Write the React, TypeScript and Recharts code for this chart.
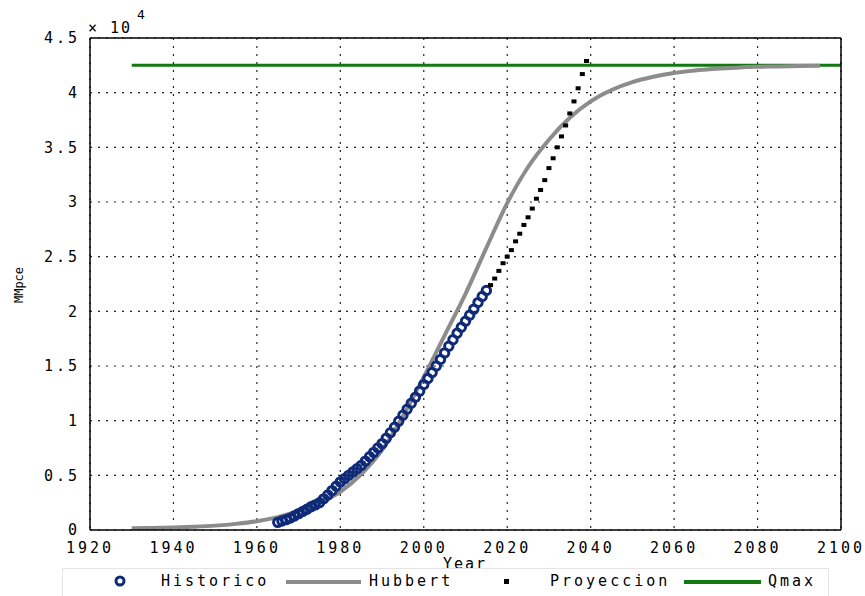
import React from 'react';
import {
  ComposedChart, Line, Scatter, XAxis, YAxis, CartesianGrid, Legend, Customized,
} from 'recharts';

// ---- data ----
const hubbertYears = [1930, 1935, 1940, 1945, 1950, 1955, 1960, 1965, 1970, 1975, 1980, 1985, 1990, 1995, 2000, 2005, 2010, 2015, 2020, 2025, 2030, 2035, 2040, 2045, 2050, 2055, 2060, 2065, 2070, 2075, 2080, 2085, 2090, 2095];
const hubbertValues = [150, 180, 230, 300, 400, 560, 800, 1180, 1740, 2500, 3500, 5100, 7300, 10400, 14000, 17800, 21600, 25800, 29900, 33200, 35700, 37700, 39200, 40240, 40960, 41450, 41800, 42030, 42180, 42290, 42360, 42400, 42440, 42460];

const historicoYears = [1965, 1966, 1967, 1968, 1969, 1970, 1971, 1972, 1973, 1974, 1975, 1976, 1977, 1978, 1979, 1980, 1981, 1982, 1983, 1984, 1985, 1986, 1987, 1988, 1989, 1990, 1991, 1992, 1993, 1994, 1995, 1996, 1997, 1998, 1999, 2000, 2001, 2002, 2003, 2004, 2005, 2006, 2007, 2008, 2009, 2010, 2011, 2012, 2013, 2014, 2015];
const historicoValues = [700, 820, 950, 1090, 1280, 1500, 1700, 1900, 2120, 2300, 2500, 2850, 3200, 3600, 4000, 4400, 4700, 5000, 5300, 5600, 5900, 6300, 6700, 7100, 7500, 7900, 8400, 8900, 9400, 9950, 10500, 11050, 11600, 12150, 12700, 13300, 13850, 14400, 15000, 15600, 16200, 16800, 17400, 18000, 18550, 19100, 19650, 20200, 20800, 21350, 21900];

const proyeccionYears = [2016, 2017, 2018, 2019, 2020, 2021, 2022, 2023, 2024, 2025, 2026, 2027, 2028, 2029, 2030, 2031, 2032, 2033, 2034, 2035, 2036, 2037, 2038, 2039];
const proyeccionValues = [22400, 23000, 23700, 24400, 25000, 25600, 26400, 27100, 27900, 28600, 29400, 30300, 31100, 32000, 33100, 34000, 35000, 36000, 37000, 38100, 39200, 40400, 41700, 42900];

const qmaxYears = [1930, 2100];
const qmaxValues = [42500, 42500];

const xTicks = [1920, 1940, 1960, 1980, 2000, 2020, 2040, 2060, 2080, 2100];
const yTicks = [0, 5000, 10000, 15000, 20000, 25000, 30000, 35000, 40000, 45000];

const seriesNames = ['Historico', 'Hubbert', 'Proyeccion', 'Qmax'];

// ---- styling ----
const FONT = "'DejaVu Sans Mono', monospace";
const BLUE = '#0f2a78';
const GRAY = '#8c8c8c';
const GREEN = '#127812';

const toPoints = (xs: number[], vs: number[]) => xs.map((x, i) => ({ x, v: vs[i] }));
const hubbertData = toPoints(hubbertYears, hubbertValues);
const historicoData = toPoints(historicoYears, historicoValues);
const proyeccionData = toPoints(proyeccionYears, proyeccionValues);
const qmaxData = toPoints(qmaxYears, qmaxValues);

const tickStyle = { fontFamily: FONT, fontSize: 15, fill: '#000', letterSpacing: 3 };

const fmtY = (v: number) => (v === 0 ? '0' : String(v / 10000));

const RingShape = (props: any) => {
  const { cx, cy } = props;
  if (cx == null || cy == null) return <g />;
  return <circle cx={cx} cy={cy} r={4.2} fill="none" stroke={BLUE} strokeWidth={3} />;
};

const SquareShape = (props: any) => {
  const { cx, cy } = props;
  if (cx == null || cy == null) return <g />;
  return <rect x={cx - 2.5} y={cy - 2} width={5} height={4} fill="#000" />;
};

const Annotations = () => (
  <g>
    <text x={88} y={33} fontFamily={FONT} fontSize={15} letterSpacing={2} fill="#000">× 10</text>
    <text x={137} y={19} fontFamily={FONT} fontSize={13} fill="#000">4</text>
    <text x={465} y={569} textAnchor="middle" fontFamily={FONT} fontSize={15} letterSpacing={2} fill="#000">Year</text>
    <text
      x={23}
      y={285}
      transform="rotate(-90 23 285)"
      textAnchor="middle"
      fontFamily={FONT}
      fontSize={12}
      fill="#000"
    >
      MMpce
    </text>
  </g>
);

const legendText: React.CSSProperties = {
  position: 'absolute',
  top: 4,
  fontFamily: FONT,
  fontSize: 15,
  letterSpacing: 3,
  lineHeight: '17px',
  color: '#000',
  whiteSpace: 'nowrap',
};

const LegendContent = () => (
  <div
    style={{
      position: 'relative',
      width: 767,
      height: 34,
      border: '1px solid #e4e4e4',
      background: '#fff',
      boxSizing: 'border-box',
    }}
  >
    <svg width={767} height={34} style={{ position: 'absolute', left: 0, top: 0 }}>
      <circle cx={57} cy={12} r={4} fill="none" stroke={BLUE} strokeWidth={3} />
      <line x1={223} y1={13} x2={298} y2={13} stroke={GRAY} strokeWidth={4} />
      <rect x={441} y={10} width={5} height={5} fill="#000" />
      <line x1={621} y1={13} x2={698} y2={13} stroke={GREEN} strokeWidth={4} />
    </svg>
    <span style={{ ...legendText, left: 98 }}>{seriesNames[0]}</span>
    <span style={{ ...legendText, left: 306 }}>{seriesNames[1]}</span>
    <span style={{ ...legendText, left: 487 }}>{seriesNames[2]}</span>
    <span style={{ ...legendText, left: 705 }}>{seriesNames[3]}</span>
  </div>
);

export default function App() {
  return (
    <div style={{ position: 'absolute', left: 0, top: 0, width: 865, height: 596, background: '#fff', overflow: 'hidden' }}>
      <ComposedChart width={865} height={596} margin={{ top: 38, right: 24, bottom: 36, left: 0 }}>
        <CartesianGrid stroke="#222" strokeWidth={1.2} strokeDasharray="2 6" />
        <XAxis
          dataKey="x"
          type="number"
          domain={[1920, 2100]}
          ticks={xTicks}
          allowDataOverflow
          height={30}
          tickLine={false}
          tickSize={6}
          tickMargin={6}
          axisLine={{ stroke: '#000', strokeWidth: 1.5 }}
          tick={tickStyle}
          interval={0}
        />
        <XAxis
          xAxisId="bottomIn"
          type="number"
          domain={[1920, 2100]}
          ticks={xTicks}
          orientation="bottom"
          mirror
          tickSize={5}
          tickFormatter={() => ''}
          axisLine={false}
          tickLine={{ stroke: '#000', strokeWidth: 1.5 }}
          interval={0}
        />
        <XAxis
          xAxisId="top"
          type="number"
          domain={[1920, 2100]}
          ticks={xTicks}
          orientation="top"
          mirror
          tickSize={5}
          tickFormatter={() => ''}
          axisLine={{ stroke: '#000', strokeWidth: 1.5 }}
          tickLine={{ stroke: '#000', strokeWidth: 1.5 }}
          interval={0}
        />
        <YAxis
          dataKey="v"
          type="number"
          domain={[0, 45000]}
          ticks={yTicks}
          allowDataOverflow
          width={90}
          tickLine={false}
          tickSize={6}
          tickMargin={4}
          tickFormatter={fmtY}
          axisLine={{ stroke: '#000', strokeWidth: 1.5 }}
          tick={tickStyle}
          interval={0}
        />
        <YAxis
          yAxisId="leftIn"
          type="number"
          domain={[0, 45000]}
          ticks={yTicks}
          orientation="left"
          mirror
          tickSize={5}
          tickFormatter={() => ''}
          axisLine={false}
          tickLine={{ stroke: '#000', strokeWidth: 1.5 }}
          interval={0}
        />
        <YAxis
          yAxisId="right"
          type="number"
          domain={[0, 45000]}
          ticks={yTicks}
          orientation="right"
          mirror
          tickSize={5}
          tickFormatter={() => ''}
          axisLine={{ stroke: '#000', strokeWidth: 1.5 }}
          tickLine={{ stroke: '#000', strokeWidth: 1.5 }}
          interval={0}
        />
        <Line
          data={qmaxData}
          dataKey="v"
          name={seriesNames[3]}
          stroke={GREEN}
          strokeWidth={3}
          dot={false}
          activeDot={false}
          isAnimationActive={false}
        />
        <Line
          data={hubbertData}
          dataKey="v"
          name={seriesNames[1]}
          type="monotone"
          stroke={GRAY}
          strokeWidth={4}
          dot={false}
          activeDot={false}
          isAnimationActive={false}
        />
        <Scatter
          data={historicoData}
          dataKey="v"
          name={seriesNames[0]}
          shape={RingShape}
          isAnimationActive={false}
        />
        <Scatter
          data={proyeccionData}
          dataKey="v"
          name={seriesNames[2]}
          shape={SquareShape}
          isAnimationActive={false}
        />
        <Customized component={Annotations} />
        <Legend
          layout="horizontal"
          verticalAlign="middle"
          align="center"
          wrapperStyle={{ left: 62, top: 568, width: 767, height: 34 }}
          content={LegendContent}
        />
      </ComposedChart>
    </div>
  );
}
